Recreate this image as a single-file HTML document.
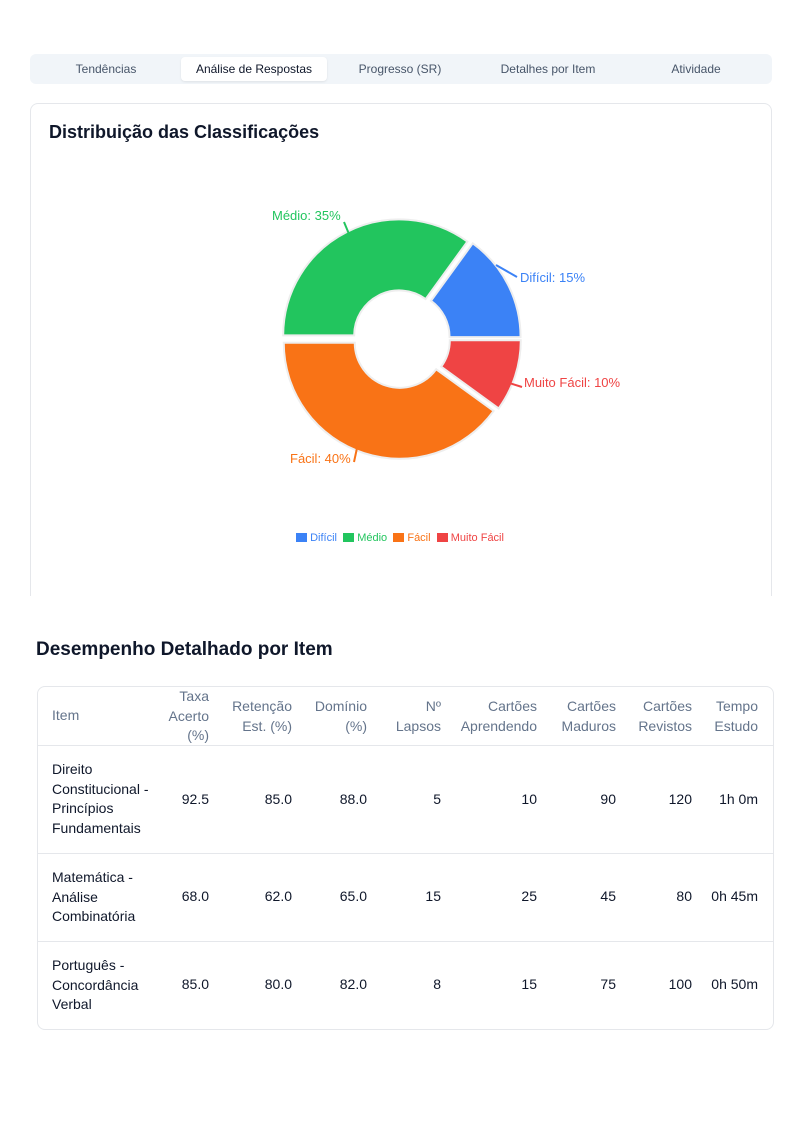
<!DOCTYPE html>
<html><head><meta charset="utf-8"><style>
body{margin:0;width:800px;height:1132px;background:#fff;font-family:"Liberation Sans",sans-serif;position:relative;overflow:hidden}
.tabs{position:absolute;left:30px;top:54px;width:742px;height:30px;background:#f1f5f9;border-radius:6px}
.tab{position:absolute;top:3px;height:24px;line-height:24px;font-size:12px;color:#475569;text-align:center}
.tab.act{background:#fff;color:#0f172a;border-radius:4px;box-shadow:0 1px 2px rgba(0,0,0,.08)}
.card{position:absolute;left:30px;top:103px;width:740px;height:492px;border:1px solid #e5e7eb;border-bottom:none;border-radius:8px 8px 0 0}
h2{position:absolute;margin:0;font-weight:600;color:#0f172a}
.tbl{position:absolute;left:37px;top:686px;width:735px;height:342px;border:1px solid #e5e7eb;border-radius:8px}
.c{position:absolute;font-size:14px;line-height:19.5px;color:#0f172a;text-align:right}
.h{color:#64748b}
.line{position:absolute;left:0;width:735px;height:1px;background:#e5e7eb}
</style></head><body>
<div class="tabs">
<div class="tab" style="left:8px;width:136px">Tendências</div>
<div class="tab act" style="left:151px;width:146px">Análise de Respostas</div>
<div class="tab" style="left:302px;width:136px">Progresso (SR)</div>
<div class="tab" style="left:450px;width:136px">Detalhes por Item</div>
<div class="tab" style="left:598px;width:136px">Atividade</div>
</div>
<div class="card"></div>
<h2 style="left:49px;top:122px;font-size:18px">Distribuição das Classificações</h2>
<svg id="pie" width="800" height="600" style="position:absolute;left:0;top:0"></svg>
<div style="position:absolute;top:532px;left:0;width:800px;text-align:center;font-size:11px">
<span style="display:inline-block;width:11px;height:9px;background:#3b82f6;vertical-align:-1px"></span> <span style="color:#3b82f6">Difícil</span>&nbsp;
<span style="display:inline-block;width:11px;height:9px;background:#22c55e;vertical-align:-1px"></span> <span style="color:#22c55e">Médio</span>&nbsp;
<span style="display:inline-block;width:11px;height:9px;background:#f97316;vertical-align:-1px"></span> <span style="color:#f97316">Fácil</span>&nbsp;
<span style="display:inline-block;width:11px;height:9px;background:#ef4444;vertical-align:-1px"></span> <span style="color:#ef4444">Muito Fácil</span>
</div>
<h2 style="left:36px;top:639px;font-size:19px">Desempenho Detalhado por Item</h2>
<div class="tbl">
<div class="line" style="top:58px"></div><div class="line" style="top:166px"></div><div class="line" style="top:254px"></div>
</div>
<div id="t"></div>
<script>
var cx=401,cy=339,R=116,r=45,off=4;
var segs=[[36,90,'#3b82f6'],[90,126,'#ef4444'],[126,270,'#f97316'],[270,396,'#22c55e']];
var s='';
function p(a,rad,ox,oy){var t=a*Math.PI/180;return [ox+rad*Math.sin(t),oy-rad*Math.cos(t)];}
segs.forEach(function(g,i){var m=(g[0]+g[1])/2,o=p(m,off,0,0),ox=cx+o[0],oy=cy+o[1];
var a=p(g[0],R,ox,oy),b=p(g[1],R,ox,oy),c=p(g[1],r,ox,oy),d=p(g[0],r,ox,oy),lg=(g[1]-g[0])>180?1:0;
s+='<path d="M'+a+' A'+R+' '+R+' 0 '+lg+' 1 '+b+' L'+c+' A'+r+' '+r+' 0 '+lg+' 0 '+d+'Z" fill="'+g[2]+'" stroke="#eee" stroke-width="2"/>';});
s+='<path d="M496 265 L517 277" stroke="#3b82f6" stroke-width="2"/><path d="M506 382 L522 387" stroke="#ef4444" stroke-width="2"/><path d="M357 448 L354 462" stroke="#f97316" stroke-width="2"/><path d="M344 222 L349 234" stroke="#22c55e" stroke-width="2"/>';
var L=[[520,282,'#3b82f6','Difícil: 15%'],[524,387,'#ef4444','Muito Fácil: 10%'],[290,463,'#f97316','Fácil: 40%'],[272,220,'#22c55e','Médio: 35%']];
L.forEach(function(l){s+='<text x="'+l[0]+'" y="'+l[1]+'" fill="'+l[2]+'" font-size="13" font-family="Liberation Sans, sans-serif">'+l[3]+'</text>';});
document.getElementById('pie').innerHTML=s;
var right=[209,292,367,441,537,616,692,758];
var hd=[['Taxa','Acerto','(%)'],['Retenção','Est. (%)'],['Domínio','(%)'],['Nº','Lapsos'],['Cartões','Aprendendo'],['Cartões','Maduros'],['Cartões','Revistos'],['Tempo','Estudo']];
var h='<div class="c h" style="left:52px;top:706px;text-align:left">Item</div>';
hd.forEach(function(x,i){var top=x.length==3?687:697;h+='<div class="c h" style="right:'+(800-right[i])+'px;top:'+top+'px">'+x.join('<br>')+'</div>';});
var rows=[[['Direito','Constitucional -','Princípios','Fundamentais'],760,790,['92.5','85.0','88.0','5','10','90','120','1h 0m']],
[['Matemática -','Análise','Combinatória'],868,887,['68.0','62.0','65.0','15','25','45','80','0h 45m']],
[['Português -','Concordância','Verbal'],956,975,['85.0','80.0','82.0','8','15','75','100','0h 50m']]];
rows.forEach(function(rw){h+='<div class="c" style="left:52px;top:'+rw[1]+'px;text-align:left">'+rw[0].join('<br>')+'</div>';
rw[3].forEach(function(v,i){h+='<div class="c" style="right:'+(800-right[i])+'px;top:'+rw[2]+'px">'+v+'</div>';});});
document.getElementById('t').innerHTML=h;
</script>
</body></html>
